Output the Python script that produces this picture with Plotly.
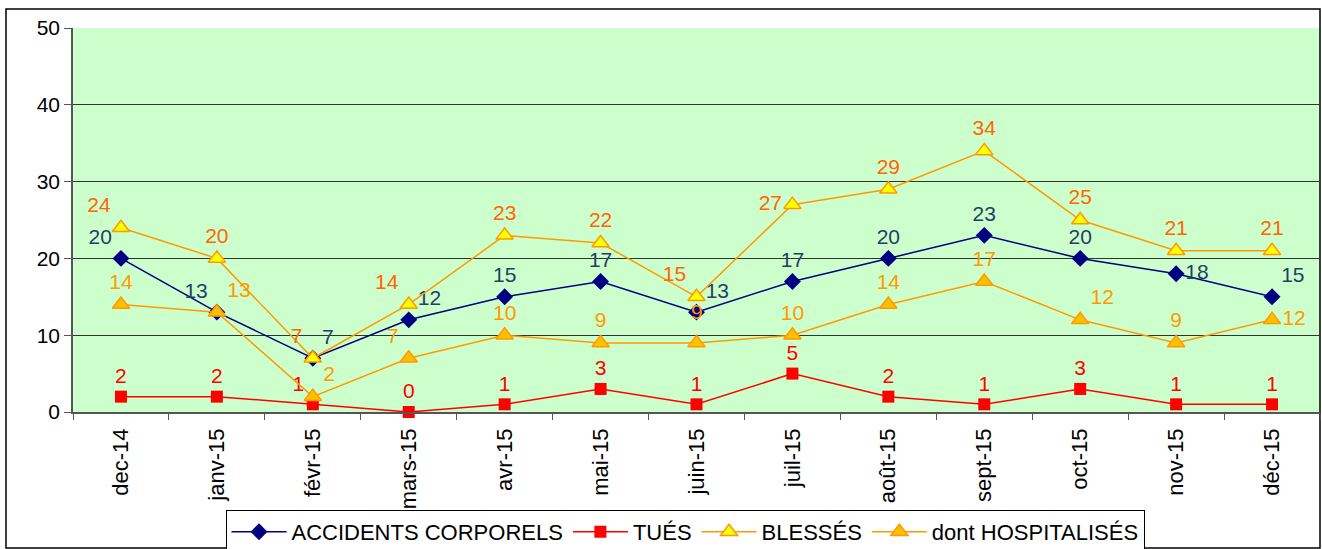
import plotly.graph_objects as go

months = ["dec-14", "janv-15", "févr-15", "mars-15", "avr-15", "mai-15", "juin-15",
          "juil-15", "août-15", "sept-15", "oct-15", "nov-15", "déc-15"]
accidents = [20, 13, 7, 12, 15, 17, 13, 17, 20, 23, 20, 18, 15]
tues = [2, 2, 1, 0, 1, 3, 1, 5, 2, 1, 3, 1, 1]
blesses = [24, 20, 7, 14, 23, 22, 15, 27, 29, 34, 25, 21, 21]
hospitalises = [14, 13, 2, 7, 10, 9, 9, 10, 14, 17, 12, 9, 12]

FONT = "Liberation Sans, Arial, sans-serif"
LBL = 21

# layout in pixels
W, H = 1322, 549
L, R, T, B = 73, 2, 28, 137
pw, ph = W - L - R, H - T - B

def px(x):
    return (x - L) / pw

def py(y):
    return (H - B - y) / ph

acc_pos = ["top left", "top left", "top right", "top right", "top center", "top center",
           "top right", "top center", "top center", "top center", "top center",
           "middle right", "top right"]
bl_pos = ["top left", "top center", "top left", "top left", "top center", "top center",
          "top left", "middle left", "top center", "top center", "top center",
          "top center", "top center"]
ho_pos = ["top center", "top right", "top right", "top left", "top center", "top center",
          "top center", "top center", "top center", "top center", "top right",
          "top center", "middle right"]
tu_pos = ["top center"] * 13
tu_pos[2] = "top left"

ho_text = [str(v) for v in hospitalises]
ho_text[6] = ""

fig = go.Figure()

fig.add_trace(go.Scatter(
    x=months, y=accidents, name="ACCIDENTS CORPORELS", mode="lines+markers+text",
    line=dict(color="#000080", width=1.5),
    marker=dict(symbol="diamond", size=13, color="#000080"),
    text=[str(v) for v in accidents], textposition=acc_pos,
    textfont=dict(color="#1F3F66", size=LBL, family=FONT),
    cliponaxis=False,
))
fig.add_trace(go.Scatter(
    x=months, y=tues, name="TUÉS", mode="lines+markers+text",
    line=dict(color="#FF0000", width=1.5),
    marker=dict(symbol="square", size=12, color="#FF0000"),
    text=[str(v) for v in tues], textposition=tu_pos,
    textfont=dict(color="#FF0000", size=LBL, family=FONT),
    cliponaxis=False,
))
fig.add_trace(go.Scatter(
    x=months, y=blesses, name="BLESSÉS", mode="lines+markers+text",
    line=dict(color="#FF9900", width=1.5),
    marker=dict(symbol="triangle-up", size=15, color="#FFFF00",
                line=dict(color="#FF9900", width=1.5)),
    text=[str(v) for v in blesses], textposition=bl_pos,
    textfont=dict(color="#FF6600", size=LBL, family=FONT),
    cliponaxis=False,
))
fig.add_trace(go.Scatter(
    x=months, y=hospitalises, name="dont HOSPITALISÉS", mode="lines+markers+text",
    line=dict(color="#FF9900", width=1.5),
    marker=dict(symbol="triangle-up", size=15, color="#FFC000",
                line=dict(color="#FF9900", width=1.5)),
    text=ho_text, textposition=ho_pos,
    textfont=dict(color="#FF9900", size=LBL, family=FONT),
    cliponaxis=False,
))

fig.add_annotation(x=months[6], y=hospitalises[6], text=str(hospitalises[6]),
                   showarrow=False, yshift=31,
                   font=dict(color="#FF9900", size=LBL, family=FONT))

fig.add_shape(type="rect", xref="paper", yref="paper",
              x0=px(6), x1=px(1320), y0=py(548), y1=py(9),
              line=dict(color="black", width=1.5), fillcolor="rgba(0,0,0,0)", layer="below")

fig.update_layout(
    width=W, height=H,
    margin=dict(l=L, r=R, t=T, b=B, autoexpand=False),
    paper_bgcolor="white", plot_bgcolor="#CCFFCC",
    font=dict(family=FONT, size=21, color="black"),
    showlegend=True,
    legend=dict(orientation="h", x=px(685), xanchor="center", y=py(510), yanchor="top",
                bordercolor="black", borderwidth=1, bgcolor="white",
                font=dict(size=22, family=FONT, color="black"),
                itemwidth=55, tracegroupgap=0),
)
fig.update_xaxes(
    type="category", range=[-0.5, len(months) - 0.5],
    tickangle=-90, tickson="boundaries", ticks="outside", ticklen=6,
    tickcolor="#555555", showline=True, linecolor="#555555", linewidth=1.5,
    showgrid=False, tickfont=dict(size=22, family=FONT), mirror=False, automargin=False,
    ticklabelstandoff=6,
)
fig.update_yaxes(
    range=[0, 50], dtick=10, ticks="outside", ticklen=7, tickcolor="#555555",
    showline=True, linecolor="#555555", linewidth=1.5,
    gridcolor="#333333", gridwidth=1, zeroline=False, automargin=False,
    tickfont=dict(size=21, family=FONT),
)

fig.write_html("out.html", config={"displayModeBar": False},
               post_script="document.body.style.margin='0';document.body.style.padding='0';")
